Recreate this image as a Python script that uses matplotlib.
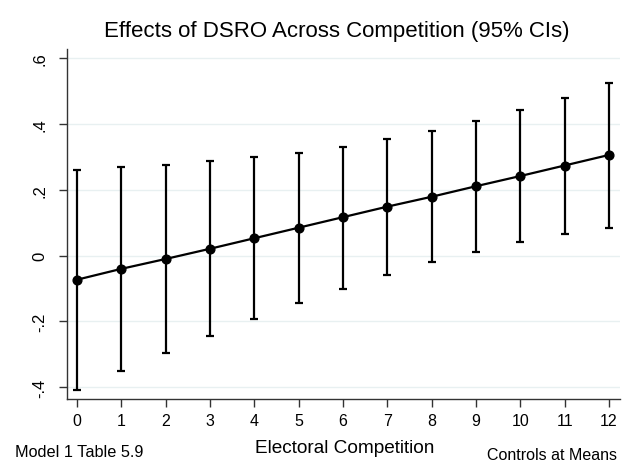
import matplotlib
matplotlib.use("Agg")
import matplotlib.pyplot as plt

plt.rcParams['font.family'] = ['Liberation Sans', 'DejaVu Sans']

competition = list(range(13))
effect = [-0.073, -0.040, -0.010, 0.021, 0.053, 0.085, 0.117, 0.149, 0.179, 0.211, 0.242, 0.274, 0.306]
ci_upper = [0.260, 0.269, 0.277, 0.287, 0.300, 0.313, 0.330, 0.354, 0.378, 0.408, 0.442, 0.480, 0.525]
ci_lower = [-0.407, -0.350, -0.297, -0.244, -0.193, -0.145, -0.100, -0.059, -0.020, 0.012, 0.042, 0.065, 0.084]
y_ticks = [-0.4, -0.2, 0.0, 0.2, 0.4, 0.6]
y_tick_labels = ['-.4', '-.2', '0', '.2', '.4', '.6']

H = 464.0
W = 624.0
fig = plt.figure(figsize=(6.24, 4.64), dpi=100)
ax = fig.add_axes([67/W, 64/H, 553/W, 350/H])

yerr = [[e - l for e, l in zip(effect, ci_lower)], [u - e for u, e in zip(ci_upper, effect)]]
ax.errorbar(competition, effect, yerr=yerr, fmt='none', ecolor='black',
            elinewidth=1.6, capsize=3, capthick=1.6, zorder=3)
ax.plot(competition, effect, color='black', lw=1.6, marker='o', markersize=6.3, zorder=4)

ax.set_xlim(-0.226, 12.25)
ax.set_ylim(-0.4355, 0.628)
ax.set_xticks(competition)
ax.set_xticklabels([str(c) for c in competition], fontsize=11.5)
ax.set_yticks(y_ticks)
ax.set_yticklabels(y_tick_labels, fontsize=12, rotation=90, va='center')
ax.yaxis.grid(True, color='#e8f0f1', lw=1.0)
ax.set_axisbelow(True)
for s in ['top', 'right']:
    ax.spines[s].set_visible(False)
for s in ['left', 'bottom']:
    ax.spines[s].set_color('#333333')
    ax.spines[s].set_linewidth(1.0)
ax.tick_params(direction='out', length=6, color='#333333', width=1.0, pad=4)
ax.tick_params(axis='y', pad=8)

fig.text(344.5/W, 1 - 453/H, 'Electoral Competition', ha='center', va='baseline', fontsize=13.7)
fig.text(337/W, 1 - 37/H, 'Effects of DSRO Across Competition (95% CIs)',
         ha='center', va='baseline', fontsize=16)
fig.text(15/W, 1 - 457.5/H, 'Model 1 Table 5.9', ha='left', va='baseline', fontsize=11.7)
fig.text(617/W, 1 - 460/H, 'Controls at Means', ha='right', va='baseline', fontsize=11.5)

fig.savefig('out.png', dpi=100)
